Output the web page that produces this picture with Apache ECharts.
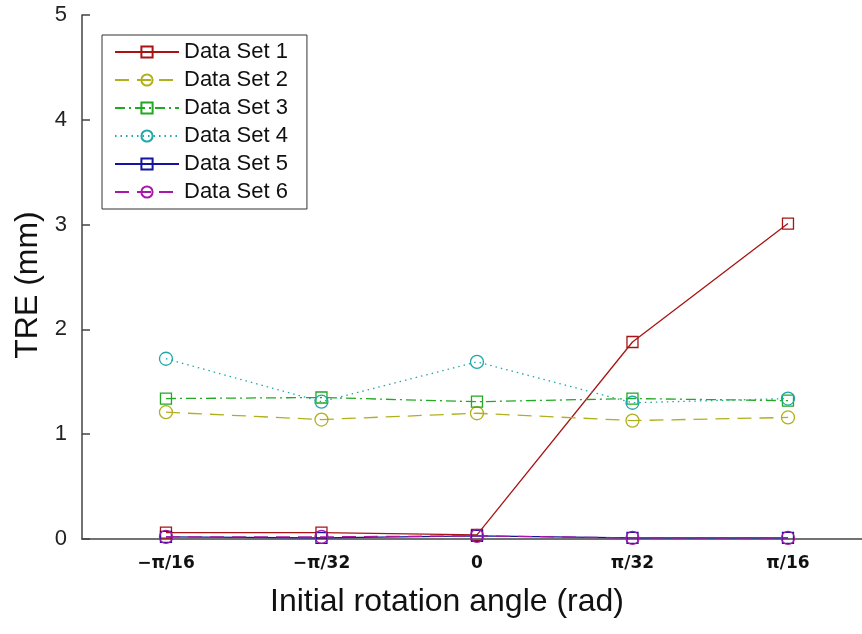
<!DOCTYPE html>
<html>
<head>
<meta charset="utf-8">
<script src="https://cdn.jsdelivr.net/npm/echarts@6/dist/echarts.min.js"></script>
<style>
  html, body { margin: 0; padding: 0; background: #fff; }
  #main { width: 862px; height: 634px; }
</style>
</head>
<body>
<div id="main"></div>
<script>
// x positions (in units of pi/32) and their tick labels
var xValues = [-2, -1, 0, 1, 2];
var xLabels = ['\u2212\u03c0/16', '\u2212\u03c0/32', '0', '\u03c0/32', '\u03c0/16'];

var seriesNames = ['Data Set 1', 'Data Set 2', 'Data Set 3', 'Data Set 4', 'Data Set 5', 'Data Set 6'];
var set1 = [0.06, 0.06, 0.04, 1.88, 3.01];
var set2 = [1.21, 1.14, 1.20, 1.13, 1.16];
var set3 = [1.34, 1.35, 1.31, 1.34, 1.32];
var set4 = [1.72, 1.31, 1.69, 1.30, 1.34];
var set5 = [0.02, 0.01, 0.03, 0.01, 0.01];
var set6 = [0.02, 0.02, 0.03, 0.01, 0.01];
var allSets = [set1, set2, set3, set4, set5, set6];

var colors = ['#a81414', '#b0b01c', '#22a822', '#1ea8a8', '#1414a0', '#a818a8'];
var symbols = ['rect', 'circle', 'rect', 'circle', 'rect', 'circle'];
var dashes = ['solid', [14, 8], [10, 4, 2, 4], [1.5, 4], 'solid', [14, 8]];

var dom = document.getElementById('main');
var myChart = echarts.init(dom, null, { renderer: 'canvas' });

var series = allSets.map(function (vals, i) {
    return {
        name: seriesNames[i],
        type: 'line',
        data: vals.map(function (v, j) { return [xValues[j], v]; }),
        symbol: symbols[i],
        symbolSize: symbols[i] === 'rect' ? 11 : 13,
        showAllSymbol: true,
        animation: false,
        lineStyle: { color: colors[i], width: 1.3, type: dashes[i] },
        itemStyle: { color: 'rgba(0,0,0,0)', borderColor: colors[i], borderWidth: 1.3 },
        emphasis: { disabled: true },
        z: 2 + i
    };
});

var option = {
    animation: false,
    textStyle: { fontFamily: 'Liberation Sans, Arial, sans-serif' },
    grid: { left: 82, right: 0, top: 15, bottom: 95, outerBoundsMode: 'none', containLabel: false },
    legend: {
        orient: 'vertical',
        left: 102,
        top: 35,
        padding: [6, 19, 6, 12],
        borderColor: '#333',
        borderWidth: 1,
        backgroundColor: '#fff',
        itemWidth: 64,
        itemHeight: 14,
        itemGap: 6,
        textStyle: { fontSize: 22, color: '#111', lineHeight: 22 },
        data: seriesNames
    },
    xAxis: {
        type: 'value',
        min: -2.54,
        max: 2.476,
        name: 'Initial rotation angle (rad)',
        nameLocation: 'middle',
        nameGap: 47,
        nameTextStyle: { fontSize: 32, color: '#111', padding: [0, 50, 0, 0] },
        axisLine: { show: true, onZero: false, lineStyle: { color: '#444', width: 1.5 } },
        axisTick: { show: false },
        splitLine: { show: false },
        axisLabel: {
            customValues: xValues,
            margin: 16,
            fontSize: 17,
            fontWeight: 'bold',
            fontFamily: 'DejaVu Sans',
            color: '#111',
            formatter: function (v) {
                var k = xValues.indexOf(Math.round(v));
                return k >= 0 ? xLabels[k] : '';
            }
        }
    },
    yAxis: {
        type: 'value',
        min: 0,
        max: 5,
        interval: 1,
        name: 'TRE (mm)',
        nameLocation: 'middle',
        nameGap: 35,
        nameTextStyle: { fontSize: 32, color: '#111', padding: [0, 16, 0, 0] },
        axisLine: { show: true, onZero: false, lineStyle: { color: '#444', width: 1.5 } },
        axisTick: { show: true, inside: true, length: 8, lineStyle: { color: '#444', width: 1.5 } },
        splitLine: { show: false },
        axisLabel: { fontSize: 22, color: '#222', margin: 15 }
    },
    series: series
};

myChart.setOption(option);
window.addEventListener('resize', myChart.resize);
</script>
</body>
</html>
